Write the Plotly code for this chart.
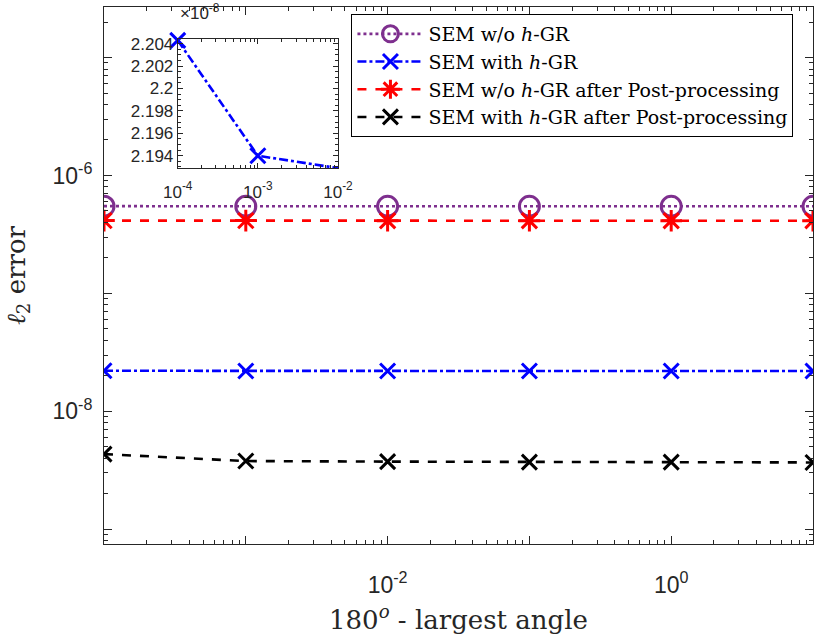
import plotly.graph_objects as go

# data
angle_gap = [1e-4, 1e-3, 1e-2, 1e-1, 1, 10]
sem_no_gr = [5.49e-7, 5.48e-7, 5.48e-7, 5.48e-7, 5.48e-7, 5.48e-7]
sem_gr = [2.2043e-8, 2.1940e-8, 2.1929e-8, 2.1929e-8, 2.1929e-8, 2.1929e-8]
sem_no_gr_pp = [4.14e-7, 4.14e-7, 4.13e-7, 4.13e-7, 4.13e-7, 4.13e-7]
sem_gr_pp = [4.33e-9, 3.78e-9, 3.74e-9, 3.70e-9, 3.70e-9, 3.68e-9]

x_ticks = [1e-4, 1e-3, 1e-2, 1e-1, 1, 10]
x_ticktext = ["", "", "10<sup>-2</sup>", "", "10<sup>0</sup>", ""]
y_ticks = [1e-9, 1e-8, 1e-7, 1e-6, 1e-5]
y_ticktext = ["", "10<sup>-8</sup>", "", "10<sup>-6</sup>", ""]
inset_ticks = [2.194, 2.196, 2.198, 2.2, 2.202, 2.204]
inset_x_ticks = [1e-4, 1e-3, 1e-2]

SERIF = "DejaVu Serif"
SANS = "Liberation Sans"
AX = "#262626"


def minor_log(lo, hi):
    out = []
    for e in range(lo, hi):
        out += [k * 10 ** e for k in range(2, 10)]
    return out


fig = go.Figure()

series = [
    ("SEM w/o <i>h</i>-GR", sem_no_gr, "#7E2F8E", "dot", "circle-open", 20),
    ("SEM with <i>h</i>-GR", sem_gr, "#0000FF", "dashdot", "x-thin-open", 15),
    ("SEM w/o <i>h</i>-GR after Post-processing", sem_no_gr_pp, "#FF0000", "dash", "asterisk-open", 18),
    ("SEM with <i>h</i>-GR after Post-processing", sem_gr_pp, "#000000", "dash", "x-thin-open", 15),
]
for name, ys, col, dash, sym, sz in series:
    fig.add_trace(go.Scatter(
        x=angle_gap, y=ys, name=name, mode="lines+markers",
        line=dict(color=col, width=2.6, dash=dash),
        marker=dict(symbol=sym, size=sz, color=col, line=dict(color=col, width=3)),
    ))

# inset: zoom on the h-GR curve
fig.add_trace(go.Scatter(
    x=angle_gap[:3], y=[v * 1e8 for v in sem_gr[:3]], mode="lines+markers",
    line=dict(color="#0000FF", width=2.6, dash="dashdot"),
    marker=dict(symbol="x-thin-open", size=15, color="#0000FF", line=dict(color="#0000FF", width=3)),
    xaxis="x2", yaxis="y2", showlegend=False, cliponaxis=False,
))

axis_common = dict(
    showgrid=False, zeroline=False, showline=True, linecolor=AX, linewidth=1,
    mirror="ticks", ticks="inside", tickcolor=AX, tickwidth=1,
)

fig.update_layout(
    width=830, height=636,
    margin=dict(l=104, r=13, t=2, b=92),
    paper_bgcolor="white", plot_bgcolor="white",
    xaxis=dict(
        type="log", range=[-4, 1], tickvals=x_ticks, ticktext=x_ticktext,
        ticklen=8, ticklabelstandoff=20,
        tickfont=dict(family=SANS, size=23, color=AX),
        minor=dict(ticks="inside", ticklen=4, tickcolor=AX, tickvals=minor_log(-4, 1)),
        **axis_common,
    ),
    yaxis=dict(
        type="log", range=[-9.126, -4.571], tickvals=y_ticks, ticktext=y_ticktext,
        ticklen=8, ticklabelstandoff=6,
        tickfont=dict(family=SANS, size=23, color=AX),
        minor=dict(ticks="inside", ticklen=4, tickcolor=AX, tickvals=minor_log(-10, -4)),
        **axis_common,
    ),
    xaxis2=dict(
        type="log", domain=[0.104, 0.33], anchor="y2", range=[-4, -2],
        tickvals=inset_x_ticks, ticktext=["10<sup>-4</sup>", "10<sup>-3</sup>", "10<sup>-2</sup>"],
        ticklen=5, ticklabelstandoff=8,
        tickfont=dict(family=SANS, size=17, color=AX),
        minor=dict(ticks="inside", ticklen=3, tickcolor=AX, tickvals=minor_log(-4, -2)),
        **axis_common,
    ),
    yaxis2=dict(
        domain=[0.700, 0.940], anchor="x2", range=[2.1929, 2.2044],
        tickvals=inset_ticks, ticktext=[f"{t:g}" for t in inset_ticks],
        ticklen=5, tickfont=dict(family=SANS, size=17, color=AX),
        minor=dict(ticks="inside", ticklen=3, tickcolor=AX, dtick=0.0005),
        **axis_common,
    ),
    legend=dict(
        x=0.349, y=0.987, xanchor="left", yanchor="top",
        bgcolor="white", bordercolor="#000000", borderwidth=1,
        font=dict(family=SERIF, size=19, color="#000000"),
        tracegroupgap=0, itemwidth=66,
    ),
    annotations=[
        dict(text="<i>ℓ</i><sub>2</sub> error", xref="paper", yref="paper",
             x=-0.122, y=0.5, xanchor="center", yanchor="middle", textangle=-90,
             showarrow=False, font=dict(family=SERIF, size=26, color=AX)),
        dict(text="180<sup><i>o</i></sup> - largest angle", xref="paper", yref="paper",
             x=0.5, y=-0.137, yanchor="middle", showarrow=False,
             font=dict(family=SERIF, size=26, color=AX)),
        dict(text="×10<sup>-8</sup>", xref="paper", yref="paper",
             x=0.104, y=0.966, xanchor="left", yanchor="bottom", showarrow=False,
             font=dict(family=SANS, size=17, color=AX)),
    ],
)

fig.write_html("out.html", config={"displayModeBar": False},
               post_script="document.body.style.margin='0';")
